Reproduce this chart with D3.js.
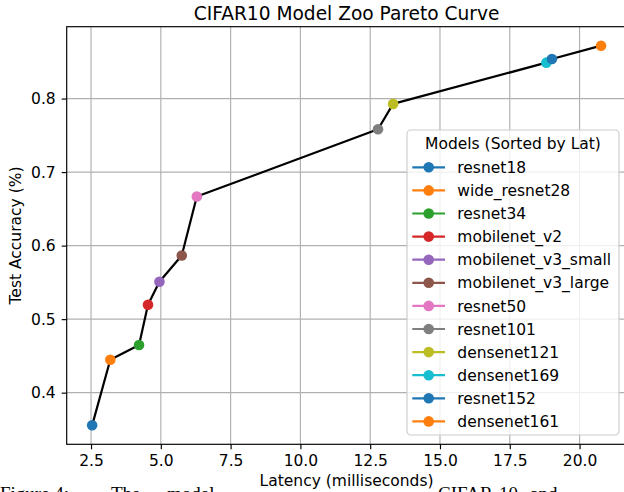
<!DOCTYPE html>
<html>
<head>
<meta charset="utf-8">
<script src="https://cdn.jsdelivr.net/npm/d3@7"></script>
<style>
html, body { margin: 0; padding: 0; background: #fff; overflow: hidden; width: 624px; height: 492px; }
svg { display: block; }
text { font-family: "DejaVu Sans", sans-serif; }
</style>
</head>
<body>
<svg id="chart" width="640" height="492"></svg>
<script>
// ---- data ----
const models = ["resnet18", "wide_resnet28", "resnet34", "mobilenet_v2", "mobilenet_v3_small",
  "mobilenet_v3_large", "resnet50", "resnet101", "densenet121", "densenet169", "resnet152", "densenet161"];
const latency = [2.54, 3.19, 4.22, 4.54, 4.95, 5.75, 6.29, 12.78, 13.32, 18.81, 19.01, 20.77];
const accuracy = [0.3556, 0.4448, 0.4648, 0.5196, 0.5508, 0.5866, 0.6667, 0.7583, 0.7927, 0.8488, 0.8538, 0.8719];
const colors = ["#1f77b4", "#ff7f0e", "#2ca02c", "#d62728", "#9467bd", "#8c564b",
  "#e377c2", "#7f7f7f", "#bcbd22", "#17becf", "#1f77b4", "#ff7f0e"];
const xTicks = [2.5, 5.0, 7.5, 10.0, 12.5, 15.0, 17.5, 20.0];
const yTicks = [0.4, 0.5, 0.6, 0.7, 0.8];
const title = "CIFAR10 Model Zoo Pareto Curve";
const xLabel = "Latency (milliseconds)";
const yLabel = "Test Accuracy (%)";
const legendTitle = "Models (Sorted by Lat)";
const captionParts = [["Figure 4:", 0], ["The", 111], ["model", 167], ["CIFAR-10", 438], ["and", 530]];

const data = models.map((m, i) => ({ name: m, x: latency[i], y: accuracy[i], c: colors[i] }));

const svg = d3.select("#chart");
const L = 66.7, R = 626.5, T = 26.7, B = 444.3;
const FS = 15.5;

function padded(vals) {
  const mn = d3.min(vals), mx = d3.max(vals), r = mx - mn;
  return [mn - 0.05 * r, mx + 0.05 * r];
}
const x = d3.scaleLinear().domain(padded(latency)).range([L, R]);
const y = d3.scaleLinear().domain(padded(accuracy)).range([B, T]);

// caption (behind the figure)
const cap = svg.append("g");
captionParts.forEach(([t, px]) => {
  cap.append("text").attr("x", px).attr("y", 499.5)
    .style("font-family", "'Liberation Serif', 'Times New Roman', serif")
    .style("font-size", "19px").attr("fill", "#000").text(t);
});

// grid
const grid = svg.append("g");
grid.selectAll("line.gx").data(xTicks).join("line")
  .attr("x1", d => x(d)).attr("x2", d => x(d)).attr("y1", T).attr("y2", B)
  .attr("stroke", "#b0b0b0").attr("stroke-width", 1.16);
grid.selectAll("line.gy").data(yTicks).join("line")
  .attr("y1", d => y(d)).attr("y2", d => y(d)).attr("x1", L).attr("x2", R)
  .attr("stroke", "#b0b0b0").attr("stroke-width", 1.16);

// axes
const xAxis = d3.axisBottom(x).tickValues(xTicks).tickFormat(d3.format(".1f")).tickSize(5).tickPadding(6);
const yAxis = d3.axisLeft(y).tickValues(yTicks).tickFormat(d3.format(".1f")).tickSize(5).tickPadding(6);
const gx = svg.append("g").attr("transform", `translate(0,${B})`).call(xAxis);
const gy = svg.append("g").attr("transform", `translate(${L},0)`).call(yAxis);
[gx, gy].forEach(g => {
  g.select(".domain").remove();
  g.selectAll(".tick line").attr("stroke", "#000").attr("stroke-width", 1.16);
  g.selectAll(".tick text").style("font-family", "'DejaVu Sans', sans-serif").style("font-size", FS + "px").attr("fill", "#000");
});

// line
const line = d3.line().x(d => x(d.x)).y(d => y(d.y));
svg.append("path").datum(data).attr("d", line)
  .attr("fill", "none").attr("stroke", "#000").attr("stroke-width", 2.2)
  .attr("stroke-linejoin", "round").attr("stroke-linecap", "square");

// markers
svg.selectAll("circle.pt").data(data).join("circle")
  .attr("cx", d => x(d.x)).attr("cy", d => y(d.y)).attr("r", 5.3).attr("fill", d => d.c);

// spines
svg.append("rect").attr("x", L).attr("y", T).attr("width", R - L).attr("height", B - T)
  .attr("fill", "none").attr("stroke", "#000").attr("stroke-width", 1.16);

// title & labels
svg.append("text").attr("x", (L + R) / 2).attr("y", 20).attr("text-anchor", "middle")
  .style("font-size", "18.6px").attr("fill", "#000").text(title);
svg.append("text").attr("x", (L + R) / 2).attr("y", 486).attr("text-anchor", "middle")
  .style("font-size", FS + "px").attr("fill", "#000").text(xLabel);
svg.append("text").attr("transform", `translate(21,${(T + B) / 2}) rotate(-90)`).attr("text-anchor", "middle")
  .style("font-size", FS + "px").attr("fill", "#000").text(yLabel);

// legend
const lg = svg.append("g");
lg.append("rect").attr("x", 407).attr("y", 130).attr("width", 212).attr("height", 305).attr("rx", 4)
  .attr("fill", "#fff").attr("fill-opacity", 0.8).attr("stroke", "#cccccc").attr("stroke-width", 1.16);
lg.append("text").attr("x", 513).attr("y", 148.5).attr("text-anchor", "middle")
  .style("font-size", FS + "px").attr("fill", "#000").text(legendTitle);
const item = lg.selectAll("g.item").data(data).join("g")
  .attr("transform", (d, i) => `translate(0,${167.3 + 23.1 * i})`);
item.append("line").attr("x1", 412.3).attr("x2", 445).attr("y1", 0).attr("y2", 0)
  .attr("stroke", d => d.c).attr("stroke-width", 2.2);
item.append("circle").attr("cx", 428.7).attr("cy", 0).attr("r", 5.3).attr("fill", d => d.c);
item.append("text").attr("x", 457.3).attr("y", 5.6)
  .style("font-size", FS + "px").attr("fill", "#000").text(d => d.name);
</script>
</body>
</html>
